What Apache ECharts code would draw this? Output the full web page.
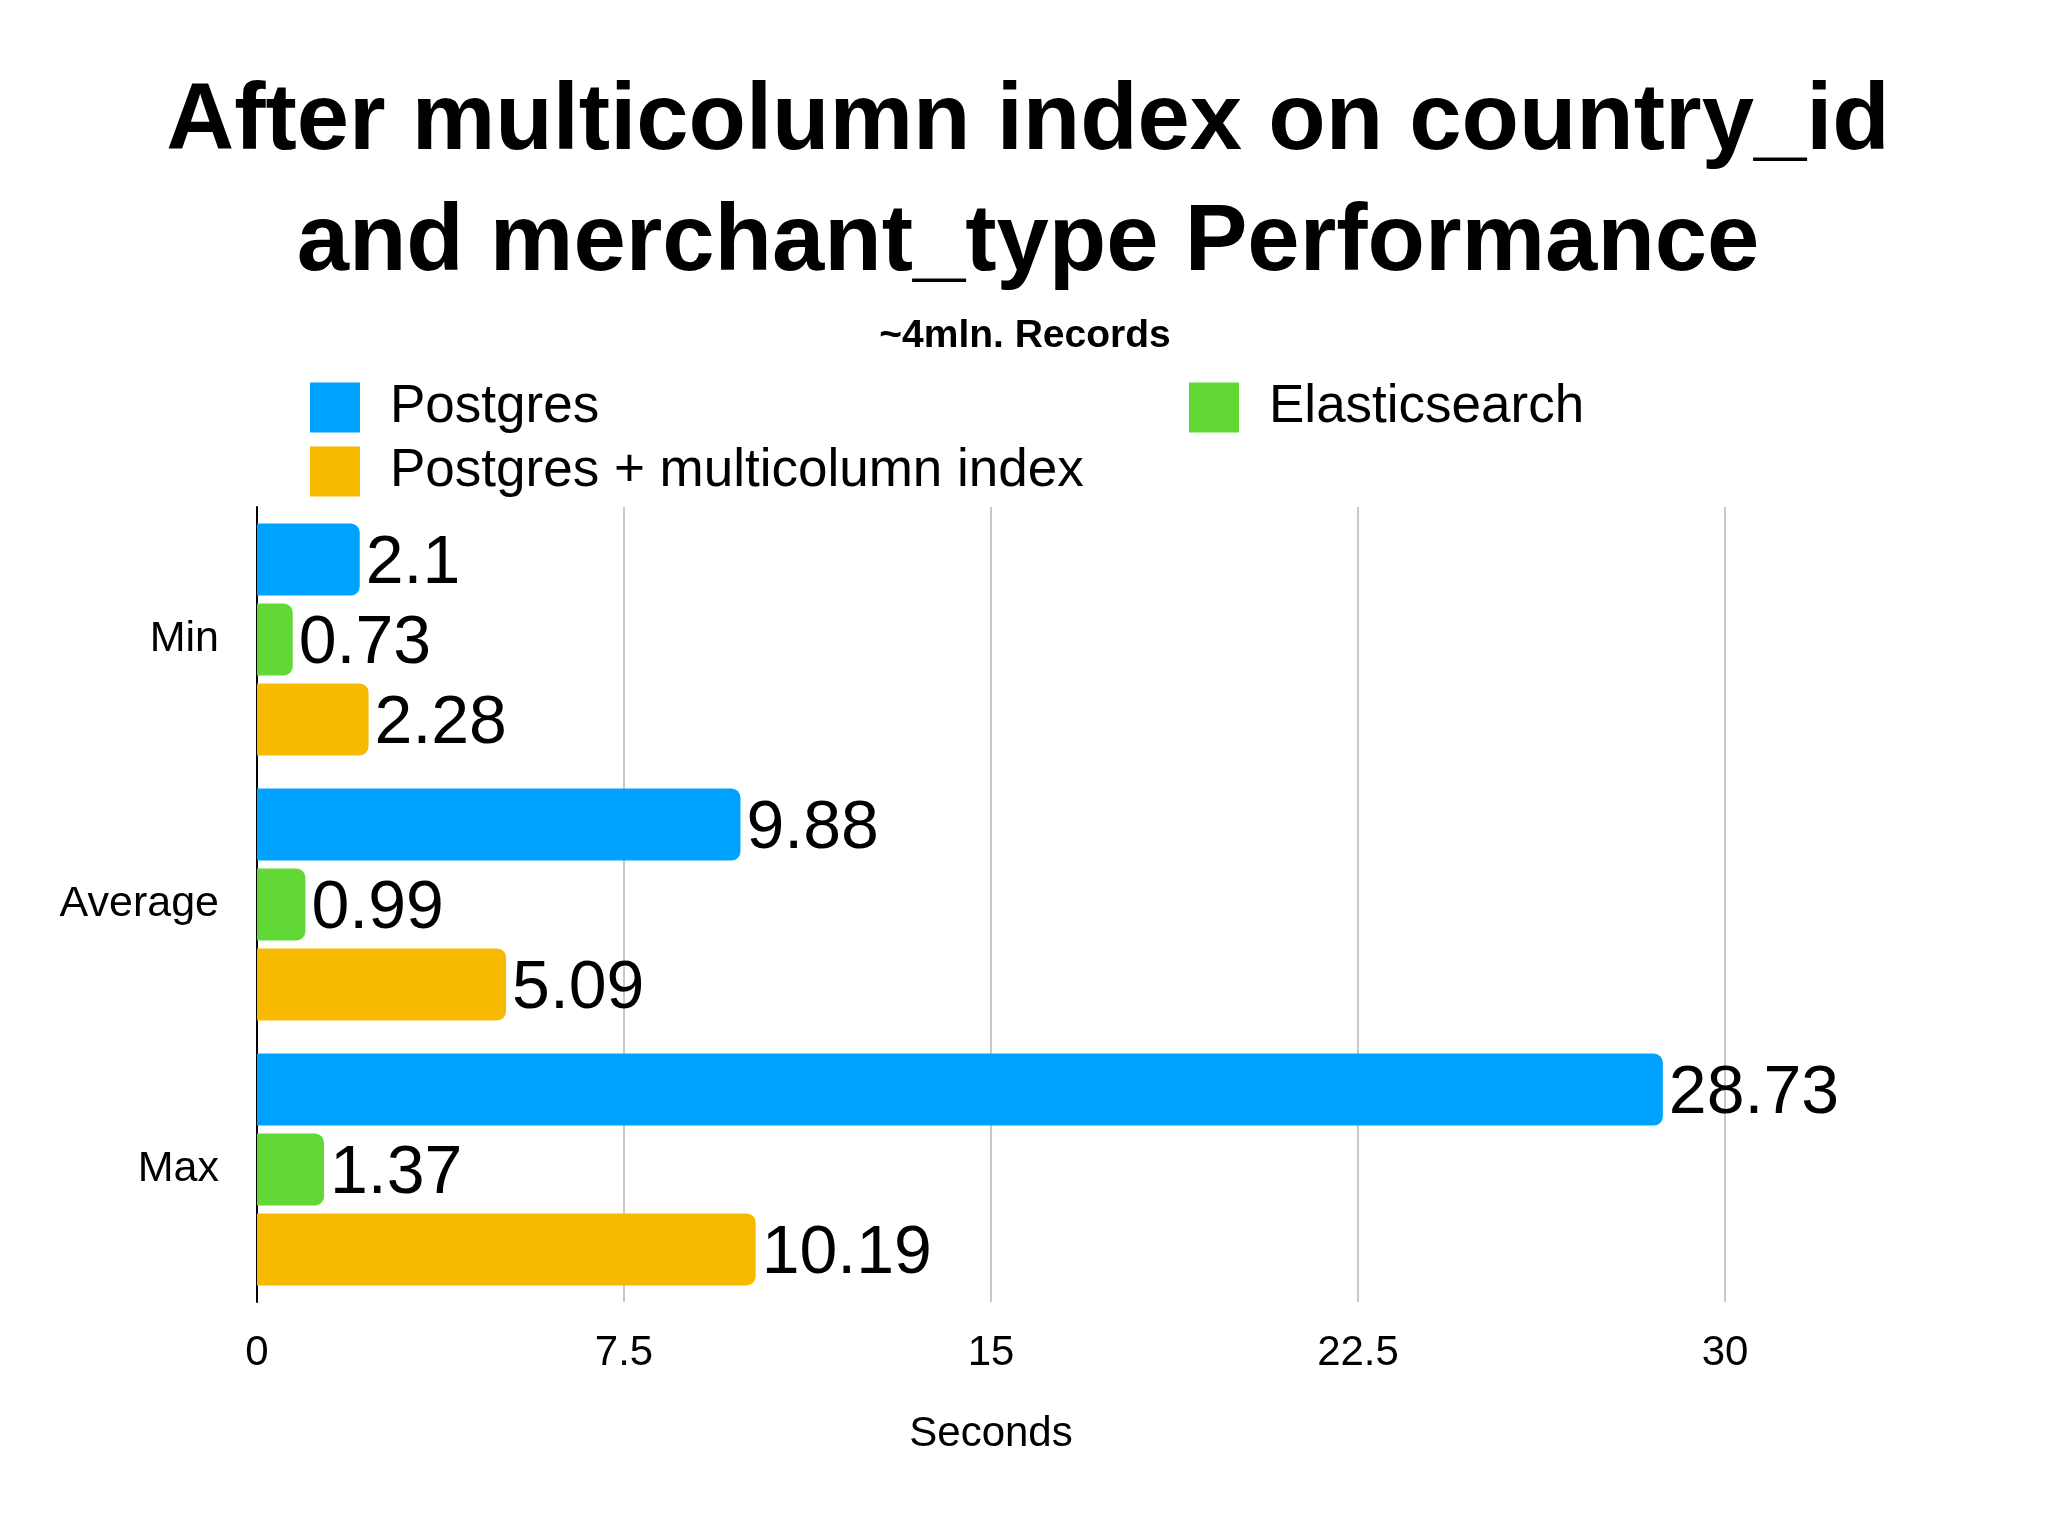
<!DOCTYPE html>
<html>
<head>
<meta charset="utf-8">
<style>
  html, body { margin: 0; padding: 0; background: #fff; }
  #chart { width: 2048px; height: 1536px; }
</style>
<script src="https://cdn.jsdelivr.net/npm/echarts@6/dist/echarts.min.js"></script>
</head>
<body>
<div id="chart"></div>
<script>
// ──── data ────
const categories = ['Min', 'Average', 'Max'];
const postgres = [2.1, 9.88, 28.73];
const elastic = [0.73, 0.99, 1.37];
const postgresMulti = [2.28, 5.09, 10.19];

const FONT = '"Liberation Sans", Arial, sans-serif';

const chart = echarts.init(document.getElementById('chart'), null, { renderer: 'canvas' });

function barSeries(name, data, color) {
    return {
        name,
        type: 'bar',
        data,
        barGap: '11%',
        barCategoryGap: '12.5%',
        itemStyle: { color, borderRadius: [0, 9, 9, 0] },
        label: {
            show: true,
            position: 'right',
            distance: 6,
            offset: [0, 5],
            color: '#000',
            fontSize: 68,
            fontFamily: FONT,
        },
    };
}

const legendBase = {
    orient: 'vertical',
    top: 376,
    itemWidth: 50,
    itemHeight: 50,
    itemGap: 11,
    icon: 'rect',
    textStyle: { fontSize: 53, color: '#000', fontFamily: FONT, padding: [0, 0, 0, 25] },
};

chart.setOption({
    backgroundColor: '#fff',
    animation: false,
    title: [
        {
            text: 'After multicolumn index on country_id\nand merchant_type Performance',
            left: 1023,
            top: 58,
            textAlign: 'center',
            textStyle: { fontSize: 94, fontWeight: 'bold', color: '#000', lineHeight: 121, fontFamily: FONT },
        },
        {
            text: '~4mln. Records',
            left: 1020,
            top: 312,
            textAlign: 'center',
            textStyle: { fontSize: 39, fontWeight: 'bold', color: '#000', fontFamily: FONT },
        },
    ],
    legend: [
        Object.assign({ left: 305, data: ['Postgres', 'Postgres + multicolumn index'] }, legendBase),
        Object.assign({ left: 1184, data: ['Elasticsearch'] }, legendBase),
    ],
    grid: { left: 257, right: 323, top: 507, bottom: 234, containLabel: false },
    xAxis: {
        type: 'value',
        min: 0,
        max: 30,
        interval: 7.5,
        name: 'Seconds',
        nameLocation: 'middle',
        nameGap: 111,
        nameTextStyle: { fontSize: 42, color: '#000', fontFamily: FONT },
        axisLine: { show: false },
        axisTick: { show: false },
        axisLabel: { fontSize: 42, color: '#000', margin: 30, fontFamily: FONT },
        splitLine: { show: true, lineStyle: { color: '#c8c8c8', width: 2 } },
    },
    yAxis: {
        type: 'category',
        data: categories,
        inverse: true,
        axisLine: { show: true, lineStyle: { color: '#000', width: 2 } },
        axisTick: { show: false },
        axisLabel: { fontSize: 43, color: '#000', margin: 38, padding: [9, 0, 0, 0], fontFamily: FONT },
    },
    series: [
        barSeries('Postgres', postgres, '#00A2FF'),
        barSeries('Elasticsearch', elastic, '#61D836'),
        barSeries('Postgres + multicolumn index', postgresMulti, '#F8BA00'),
    ],
});
</script>
</body>
</html>
